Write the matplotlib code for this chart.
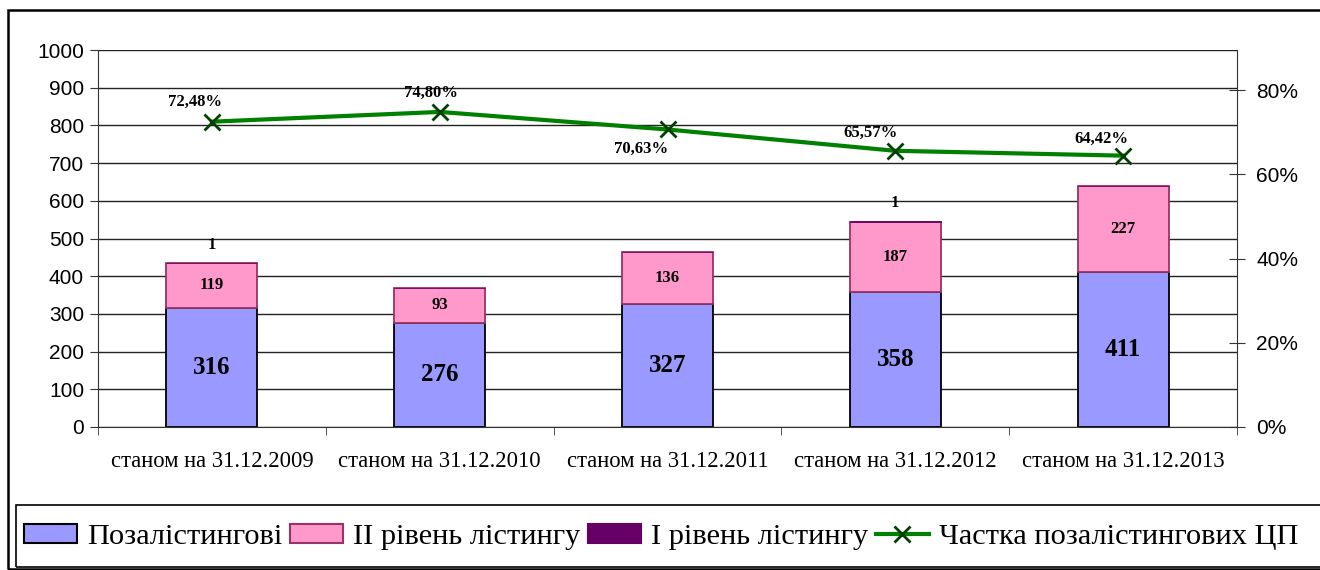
import matplotlib
matplotlib.use('Agg')
import numpy as np
import matplotlib.pyplot as plt
from matplotlib.patches import Rectangle, Patch
from matplotlib.lines import Line2D
from matplotlib.ticker import FixedLocator, FuncFormatter

categories = ['станом на 31.12.2009', 'станом на 31.12.2010', 'станом на 31.12.2011',
              'станом на 31.12.2012', 'станом на 31.12.2013']
off_listing = [316, 276, 327, 358, 411]
level2 = [119, 93, 136, 187, 227]
level1 = [1, 0, 0, 1, 0]
share_pct = [72.48, 74.80, 70.63, 65.57, 64.42]
share_labels = ['72,48%', '74,80%', '70,63%', '65,57%', '64,42%']
legend_labels = ['Позалістингові', 'ІІ рівень лістингу', 'І рівень лістингу', 'Частка позалістингових ЦП']

# label offsets (points) for the share labels, as placed in the original
share_label_dx = [-12, -6, -19, -18, -16]
share_label_dy = [14, 14, -14, 13, 12]

SERIF = 'Liberation Serif'
SANS = 'Liberation Sans'
C_BLUE = '#9999FF'
C_PINK = '#FF99CC'
C_PINK_EDGE = '#993366'
C_PURPLE = '#660066'
C_GREEN = '#008000'

W, H = 1320, 570
fig = plt.figure(figsize=(W / 100, H / 100), dpi=100)

# outer chart frame and legend box (pixel coords -> figure fraction)
def px(x0, y0, x1, y1):
    return (x0 / W, 1 - y1 / H, (x1 - x0) / W, (y1 - y0) / H)

x, y, w, h = px(8, 10, 1340, 569)
fig.patches.append(Rectangle((x, y), w, h, transform=fig.transFigure,
                             fill=False, edgecolor='black', lw=1.8))
x, y, w, h = px(16, 505, 1340, 567)
fig.patches.append(Rectangle((x, y), w, h, transform=fig.transFigure,
                             fill=False, edgecolor='black', lw=1.2))

ax = fig.add_axes([98 / W, 1 - 427 / H, (1237 - 98) / W, (427 - 50) / H])
xs = np.arange(len(categories))
bw = 0.40

bottom2 = np.array(off_listing)
bottom1 = bottom2 + np.array(level2)
ax.bar(xs, off_listing, bw, color=C_BLUE, edgecolor='black', lw=1.3, zorder=3)
ax.bar(xs, level2, bw, bottom=bottom2, color=C_PINK, edgecolor=C_PINK_EDGE, lw=1.3, zorder=3)
ax.bar(xs, level1, bw, bottom=bottom1, color=C_PURPLE, edgecolor=C_PURPLE, lw=0.5, zorder=3)

for i in xs:
    ax.text(i, off_listing[i] / 2, str(off_listing[i]), ha='center', va='center',
            family=SERIF, fontweight='bold', fontsize=18, zorder=5)
    ax.text(i, bottom2[i] + level2[i] / 2, str(level2[i]), ha='center', va='center',
            family=SERIF, fontweight='bold', fontsize=12, zorder=5)
    if level1[i]:
        ax.annotate(str(level1[i]), (i, bottom1[i] + level1[i]), xytext=(0, 13),
                    textcoords='offset points', ha='center', va='center',
                    family=SERIF, fontweight='bold', fontsize=12, zorder=5)

ax.set_xlim(-0.5, len(categories) - 0.5)
ax.set_ylim(0, 1000)
ax.set_yticks(np.arange(0, 1001, 100))
ax.yaxis.grid(True, color='#222222', lw=1.0, zorder=0)
ax.set_axisbelow(True)
for s in ['top', 'right']:
    ax.spines[s].set_visible(False)
ax.spines['left'].set_color('#333333')
ax.spines['bottom'].set_color('#333333')
ax.tick_params(axis='y', direction='out', length=6, color='#333333', labelsize=15, pad=4)
for t in ax.get_yticklabels():
    t.set_family(SANS)
ax.set_xticks(xs)
ax.set_xticklabels(categories, family=SERIF, fontsize=16.3)
ax.tick_params(axis='x', which='major', length=0, pad=17)
ax.xaxis.set_minor_locator(FixedLocator(np.arange(-0.5, len(categories), 1.0)))
ax.tick_params(axis='x', which='minor', direction='out', length=6, color='#333333')

ax2 = ax.twinx()
ax2.set_ylim(0, 0.895)
ax2.set_yticks([0, 0.2, 0.4, 0.6, 0.8])
ax2.yaxis.set_major_formatter(FuncFormatter(lambda v, p: f'{v * 100:.0f}%'))
ax2.tick_params(axis='y', direction='inout', length=12, color='#333333', labelsize=15, pad=8)
for t in ax2.get_yticklabels():
    t.set_family(SANS)
for s in ['top', 'left', 'bottom']:
    ax2.spines[s].set_visible(False)
ax2.spines['right'].set_color('#333333')

share = np.array(share_pct) / 100
ax2.plot(xs, share, color=C_GREEN, lw=3, zorder=4)
ax2.plot(xs, share, ls='none', marker='x', ms=11, mew=2, color='#004000', zorder=5)
for i in xs:
    ax2.annotate(share_labels[i], (i, share[i]),
                 xytext=(share_label_dx[i], share_label_dy[i]),
                 textcoords='offset points', ha='center', va='center',
                 family=SERIF, fontweight='bold', fontsize=12)

handles = [
    Patch(facecolor=C_BLUE, edgecolor='black', lw=1.5),
    Patch(facecolor=C_PINK, edgecolor=C_PINK_EDGE, lw=1.5),
    Patch(facecolor=C_PURPLE, edgecolor=C_PURPLE, lw=1.5),
    Line2D([], [], color=C_GREEN, lw=3, marker='x', ms=11, mew=2, mec='#004000'),
]
fig.legend(handles, legend_labels, loc='center left', bbox_to_anchor=(24 / W, 1 - 537 / H),
           ncol=4, frameon=False, prop={'family': SERIF, 'size': 21.9},
           handlelength=1.74, handleheight=0.6, handletextpad=0.33, columnspacing=0.25,
           borderpad=0, borderaxespad=0)

fig.savefig('out.png', dpi=100)
